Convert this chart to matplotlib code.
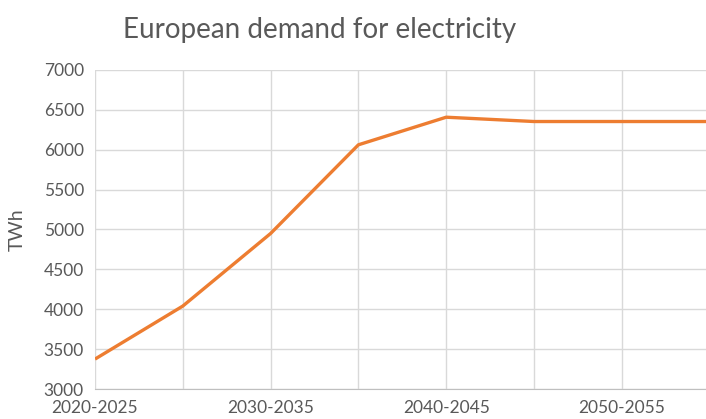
import matplotlib.pyplot as plt

periods = ["2020-2025", "2025-2030", "2030-2035", "2035-2040",
           "2040-2045", "2045-2050", "2050-2055", "2055-2060"]
demand = [3375, 4040, 4950, 6062, 6408, 6354, 6354, 6354]

plt.rcParams['font.family'] = ['Lato', 'DejaVu Sans']

fig = plt.figure(figsize=(7.06, 4.19), dpi=100)
ax = fig.add_axes([95 / 706, 1 - 389 / 419, 614.6 / 706, 319 / 419])

x = list(range(len(periods)))
ax.plot(x, demand, color="#ED7D31", lw=2.4, solid_capstyle="butt", zorder=3)

ax.set_xlim(0, 7)
ax.set_ylim(3000, 7000)
ax.set_yticks(range(3000, 7001, 500))
ax.set_xticks(x)
ax.set_xticklabels([p if i % 2 == 0 else "" for i, p in enumerate(periods)])

ax.grid(True, color="#d9d9d9", lw=1)
for s in ["top", "right", "left"]:
    ax.spines[s].set_visible(False)
ax.spines["bottom"].set_color("#bfbfbf")
ax.tick_params(length=0, labelsize=12.5, colors="#595959")
ax.tick_params(axis="x", pad=8)
ax.tick_params(axis="y", pad=8)

ax.set_ylabel("TWh", fontsize=14, color="#595959")
ax.yaxis.set_label_coords((26 - 95) / 614.6, 0.5)
fig.text(320 / 706, 1 - 30 / 419, "European demand for electricity",
         ha="center", va="center", fontsize=20, color="#595959")

fig.savefig("out.png", dpi=100)
